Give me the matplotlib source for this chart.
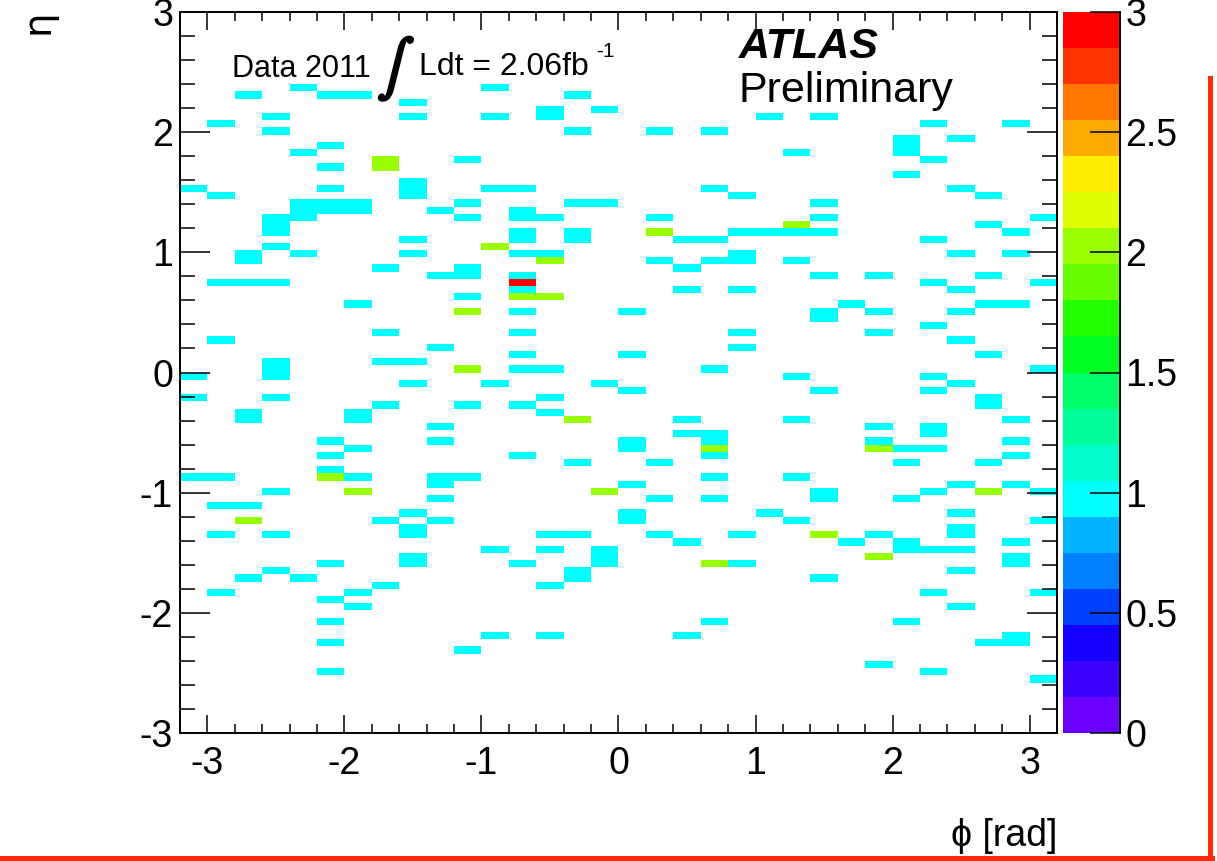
import numpy as np
import matplotlib
matplotlib.use("Agg")
import matplotlib.pyplot as plt
import matplotlib.patheffects as pe
from matplotlib.colors import ListedColormap, BoundaryNorm
from matplotlib.lines import Line2D

plt.rcParams['font.family'] = ['Liberation Sans', 'DejaVu Sans']
plt.rcParams['axes.unicode_minus'] = False

# ---------------- data: occupied (phi, eta) cells and entries ----------------
phi_cells = [
    -3.1, -3.1, -3.1, -3.1,
    -2.9, -2.9, -2.9, -2.9, -2.9, -2.9, -2.9, -2.9,
    -2.7, -2.7, -2.7, -2.7, -2.7, -2.7, -2.7, -2.7, -2.7,
    -2.5, -2.5, -2.5, -2.5, -2.5, -2.5, -2.5, -2.5, -2.5, -2.5, -2.5, -2.5, -2.5, -2.5,
    -2.3, -2.3, -2.3, -2.3, -2.3, -2.3, -2.3,
    -2.1, -2.1, -2.1, -2.1, -2.1, -2.1, -2.1, -2.1, -2.1, -2.1, -2.1, -2.1, -2.1, -2.1, -2.1,
    -1.9, -1.9, -1.9, -1.9, -1.9, -1.9, -1.9, -1.9, -1.9, -1.9, -1.9,
    -1.7, -1.7, -1.7, -1.7, -1.7, -1.7, -1.7, -1.7,
    -1.5, -1.5, -1.5, -1.5, -1.5, -1.5, -1.5, -1.5, -1.5, -1.5, -1.5, -1.5, -1.5, -1.5,
    -1.3, -1.3, -1.3, -1.3, -1.3, -1.3, -1.3, -1.3, -1.3,
    -1.1, -1.1, -1.1, -1.1, -1.1, -1.1, -1.1, -1.1, -1.1, -1.1, -1.1,
    -0.9, -0.9, -0.9, -0.9, -0.9, -0.9, -0.9,
    -0.7, -0.7, -0.7, -0.7, -0.7, -0.7, -0.7, -0.7, -0.7, -0.7, -0.7, -0.7, -0.7, -0.7, -0.7, -0.7, -0.7,
    -0.5, -0.5, -0.5, -0.5, -0.5, -0.5, -0.5, -0.5, -0.5, -0.5, -0.5, -0.5, -0.5,
    -0.3, -0.3, -0.3, -0.3, -0.3, -0.3, -0.3, -0.3, -0.3, -0.3,
    -0.1, -0.1, -0.1, -0.1, -0.1, -0.1, -0.1,
    0.1, 0.1, 0.1, 0.1, 0.1, 0.1, 0.1, 0.1,
    0.3, 0.3, 0.3, 0.3, 0.3, 0.3, 0.3,
    0.5, 0.5, 0.5, 0.5, 0.5, 0.5, 0.5,
    0.7, 0.7, 0.7, 0.7, 0.7, 0.7, 0.7, 0.7, 0.7, 0.7, 0.7, 0.7, 0.7,
    0.9, 0.9, 0.9, 0.9, 0.9, 0.9, 0.9, 0.9, 0.9,
    1.1, 1.1, 1.1,
    1.3, 1.3, 1.3, 1.3, 1.3, 1.3, 1.3, 1.3,
    1.5, 1.5, 1.5, 1.5, 1.5, 1.5, 1.5, 1.5, 1.5, 1.5, 1.5, 1.5,
    1.7, 1.7,
    1.9, 1.9, 1.9, 1.9, 1.9, 1.9, 1.9, 1.9, 1.9,
    2.1, 2.1, 2.1, 2.1, 2.1, 2.1, 2.1, 2.1, 2.1, 2.1,
    2.3, 2.3, 2.3, 2.3, 2.3, 2.3, 2.3, 2.3, 2.3, 2.3, 2.3, 2.3, 2.3, 2.3,
    2.5, 2.5, 2.5, 2.5, 2.5, 2.5, 2.5, 2.5, 2.5, 2.5, 2.5, 2.5, 2.5, 2.5,
    2.7, 2.7, 2.7, 2.7, 2.7, 2.7, 2.7, 2.7, 2.7, 2.7,
    2.9, 2.9, 2.9, 2.9, 2.9, 2.9, 2.9, 2.9, 2.9, 2.9, 2.9, 2.9, 2.9,
    3.1, 3.1, 3.1, 3.1, 3.1, 3.1, 3.1,
]

eta_cells = [
    1.53, -0.03, -0.21, -0.87,
    2.07, 1.47, 0.75, 0.27, -0.87, -1.11, -1.35, -1.83,
    2.31, 0.99, 0.93, 0.75, -0.33, -0.39, -1.11, -1.23, -1.71,
    2.13, 2.01, 1.29, 1.23, 1.17, 1.05, 0.75, 0.09, 0.03, -0.03, -0.21, -0.99, -1.35, -1.65,
    2.37, 1.83, 1.41, 1.35, 1.29, 0.99, -1.71,
    2.31, 1.89, 1.71, 1.53, 1.41, 1.35, -0.57, -0.69, -0.81, -0.87, -1.59, -1.89, -2.07, -2.25, -2.49,
    2.31, 1.41, 1.35, 0.57, -0.33, -0.39, -0.63, -0.87, -0.99, -1.83, -1.95,
    1.77, 1.71, 0.87, 0.33, 0.09, -0.27, -1.23, -1.77,
    2.25, 2.13, 1.59, 1.53, 1.47, 1.11, 0.99, 0.09, -0.09, -1.17, -1.29, -1.35, -1.53, -1.59,
    1.35, 0.81, 0.21, -0.45, -0.57, -0.87, -0.93, -1.05, -1.23,
    1.77, 1.41, 1.29, 0.87, 0.81, 0.63, 0.51, 0.03, -0.27, -0.87, -2.31,
    2.37, 2.13, 1.53, 1.05, -0.09, -1.47, -2.19,
    1.53, 1.35, 1.29, 1.17, 1.11, 0.99, 0.81, 0.75, 0.69, 0.63, 0.51, 0.33, 0.15, 0.03, -0.27, -0.69, -1.59,
    2.19, 2.13, 1.29, 0.99, 0.93, 0.63, 0.03, -0.21, -0.33, -1.35, -1.47, -1.77, -2.19,
    2.31, 2.01, 1.41, 1.17, 1.11, -0.39, -0.75, -1.35, -1.65, -1.71,
    2.19, 1.41, -0.09, -0.99, -1.47, -1.53, -1.59,
    0.51, 0.15, -0.15, -0.57, -0.63, -0.93, -1.17, -1.23,
    2.01, 1.29, 1.17, 0.93, -0.75, -1.05, -1.35,
    1.11, 0.87, 0.69, -0.39, -0.51, -1.41, -2.19,
    2.01, 1.53, 1.11, 0.93, 0.03, -0.51, -0.57, -0.63, -0.69, -0.87, -1.05, -1.59, -2.07,
    1.47, 1.17, 0.99, 0.93, 0.69, 0.33, 0.21, -1.35, -1.59,
    2.13, 1.17, -1.17,
    1.83, 1.23, 1.17, 0.93, -0.03, -0.39, -0.87, -1.23,
    2.13, 1.41, 1.29, 1.17, 0.81, 0.51, 0.45, -0.15, -0.99, -1.05, -1.35, -1.71,
    0.57, -1.41,
    0.81, 0.51, 0.33, -0.45, -0.57, -0.63, -1.35, -1.53, -2.43,
    1.95, 1.89, 1.83, 1.65, -0.63, -0.75, -1.05, -1.41, -1.47, -2.07,
    2.07, 1.77, 1.11, 0.75, 0.39, -0.03, -0.15, -0.45, -0.51, -0.63, -0.99, -1.47, -1.83, -2.49,
    1.95, 1.53, 0.99, 0.69, 0.51, 0.27, -0.09, -0.93, -1.17, -1.29, -1.35, -1.47, -1.65, -1.95,
    1.47, 1.23, 0.81, 0.57, 0.15, -0.21, -0.27, -0.75, -0.99, -2.25,
    2.07, 1.17, 0.99, 0.57, -0.39, -0.57, -0.69, -0.93, -1.41, -1.53, -1.59, -2.19, -2.25,
    1.29, 0.75, 0.03, -0.99, -1.23, -1.83, -2.55,
]

entries = [
    1, 1, 1, 1,
    1, 1, 1, 1, 1, 1, 1, 1,
    1, 1, 1, 1, 1, 1, 1, 2, 1,
    1, 1, 1, 1, 1, 1, 1, 1, 1, 1, 1, 1, 1, 1,
    1, 1, 1, 1, 1, 1, 1,
    1, 1, 1, 1, 1, 1, 1, 1, 1, 2, 1, 1, 1, 1, 1,
    1, 1, 1, 1, 1, 1, 1, 1, 2, 1, 1,
    2, 2, 1, 1, 1, 1, 1, 1,
    1, 1, 1, 1, 1, 1, 1, 1, 1, 1, 1, 1, 1, 1,
    1, 1, 1, 1, 1, 1, 1, 1, 1,
    1, 1, 1, 1, 1, 1, 2, 2, 1, 1, 1,
    1, 1, 1, 2, 1, 1, 1,
    1, 1, 1, 1, 1, 1, 1, 3, 1, 2, 1, 1, 1, 1, 1, 1, 1,
    1, 1, 1, 1, 2, 2, 1, 1, 1, 1, 1, 1, 1,
    1, 1, 1, 1, 1, 2, 1, 1, 1, 1,
    1, 1, 1, 2, 1, 1, 1,
    1, 1, 1, 1, 1, 1, 1, 1,
    1, 1, 2, 1, 1, 1, 1,
    1, 1, 1, 1, 1, 1, 1,
    1, 1, 1, 1, 1, 1, 1, 2, 1, 1, 1, 2, 1,
    1, 1, 1, 1, 1, 1, 1, 1, 1,
    1, 1, 1,
    1, 2, 1, 1, 1, 1, 1, 1,
    1, 1, 1, 1, 1, 1, 1, 1, 1, 1, 2, 1,
    1, 1,
    1, 1, 1, 1, 1, 2, 1, 2, 1,
    1, 1, 1, 1, 1, 1, 1, 1, 1, 1,
    1, 1, 1, 1, 1, 1, 1, 1, 1, 1, 1, 1, 1, 1,
    1, 1, 1, 1, 1, 1, 1, 1, 1, 1, 1, 1, 1, 1,
    1, 1, 1, 1, 1, 1, 1, 1, 2, 1,
    1, 1, 1, 1, 1, 1, 1, 1, 1, 1, 1, 1, 1,
    1, 1, 1, 1, 1, 1, 1,
]

phi_edges = np.linspace(-3.2, 3.2, 33)
eta_edges = np.linspace(-3.0, 3.0, 101)

x_ticks = [-3, -2, -1, 0, 1, 2, 3]
y_ticks = [-3, -2, -1, 0, 1, 2, 3]
z_ticks = [0, 0.5, 1, 1.5, 2, 2.5, 3]
z_labels = ['0', '0.5', '1', '1.5', '2', '2.5', '3']

palette = ['#6a00ff', '#3c00ff', '#1400ff', '#0040ff', '#0080ff', '#00b4ff',
           '#00ffff', '#00ffcc', '#00ff99', '#00ff66', '#00ff22', '#22ff00',
           '#66ff00', '#99ff00', '#ddff00', '#ffee00', '#ffaa00', '#ff7700',
           '#ff3300', '#ff0000']

# ---------------- figure ----------------
W, H = 1217, 861
fig = plt.figure(figsize=(W / 100, H / 100), dpi=100)
fig.patch.set_facecolor('white')


def fx(px):
    return px / W


def fy(py):
    return 1 - py / H


ax = fig.add_axes([fx(180), fy(733), fx(1057) - fx(180), fy(12) - fy(733)])
cax = fig.add_axes([fx(1063), fy(733), fx(1120) - fx(1063), fy(12) - fy(733)])

Hh, _, _ = np.histogram2d(phi_cells, eta_cells, bins=[phi_edges, eta_edges],
                          weights=entries)
Z = np.ma.masked_where(Hh.T <= 0, Hh.T)

cmap = ListedColormap(palette)
cmap.set_over('#ff0000')
norm = BoundaryNorm(np.linspace(0, 3, 21), cmap.N)

mesh = ax.pcolormesh(phi_edges, eta_edges, Z, cmap=cmap, norm=norm,
                     edgecolors='none', antialiased=False, shading='flat')

ax.set_xlim(-3.2, 3.2)
ax.set_ylim(-3.0, 3.0)
ax.set_xticks(x_ticks)
ax.set_xticklabels([str(v) for v in x_ticks])
ax.set_yticks(y_ticks)
ax.set_yticklabels([str(v) for v in y_ticks])
ax.set_xticks(np.arange(-3.2, 3.21, 0.2), minor=True)
ax.set_yticks(np.arange(-3.0, 3.01, 0.2), minor=True)
for s in ax.spines.values():
    s.set_linewidth(1.4)
ax.tick_params(axis='both', which='both', direction='in', top=True, right=True,
               width=1.1, labelsize=27, colors='black')
ax.tick_params(axis='x', which='major', length=13, pad=9)
ax.tick_params(axis='x', which='minor', length=6.5)
ax.tick_params(axis='y', which='major', length=21.5, pad=5)
ax.tick_params(axis='y', which='minor', length=10.8)

# colour bar
cb = fig.colorbar(mesh, cax=cax, ticks=z_ticks)
cb.outline.set_visible(False)
cb.minorticks_off()
cax.set_yticklabels(z_labels)
cax.tick_params(direction='in', length=21.5, width=1.1, labelsize=27, pad=4,
                right=True, left=False)
cax.plot([1, 1], [0, 1], transform=cax.transAxes, color='black', lw=1.4,
         clip_on=False)

# axis titles
fig.text(fx(38), fy(22), 'η', rotation=90, ha='center', va='center',
         fontsize=28, family=['DejaVu Sans'])
fig.text(fx(1057), fy(846), 'ϕ [rad]', ha='right', va='baseline', fontsize=27,
         family=['Liberation Sans', 'DejaVu Sans'])

# labels
fig.text(fx(232), fy(77), 'Data 2011', fontsize=22, ha='left', va='baseline')
fig.text(fx(396), fy(69), r'$\int$', fontsize=40, ha='center', va='center',
         math_fontfamily='stix',
         path_effects=[pe.withStroke(linewidth=1.8, foreground='black')])
fig.text(fx(419), fy(75), 'Ldt = 2.06fb', fontsize=23, ha='left', va='baseline')
fig.text(fx(596), fy(57), '-1', fontsize=15, ha='left', va='baseline')
fig.text(fx(739), fy(58), 'ATLAS', fontsize=31, ha='left', va='baseline',
         weight='bold', style='italic')
fig.text(fx(739), fy(102), 'Preliminary', fontsize=31, ha='left', va='baseline')

# red frame marks
red = '#ff2a0a'
fig.add_artist(Line2D([fx(1210), fx(1210)], [fy(78), fy(859)], color=red,
                      lw=3.6, transform=fig.transFigure))
fig.add_artist(Line2D([0, fx(1212)], [fy(857.5), fy(857.5)], color=red,
                      lw=3.6, transform=fig.transFigure))

fig.savefig('out.png', dpi=100, facecolor='white')
